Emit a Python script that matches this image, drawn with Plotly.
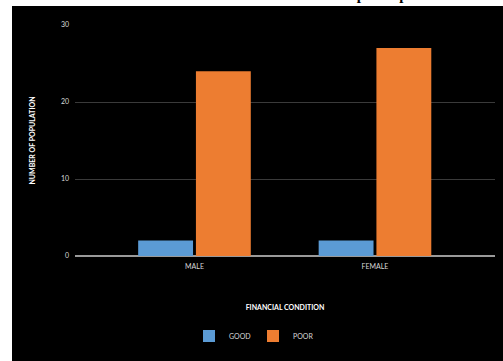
import plotly.graph_objects as go

# Number of participants by gender and financial condition
genders = ["MALE", "FEMALE"]
good_counts = [2, 2]
poor_counts = [24, 27]
series_names = ["GOOD", "POOR"]
y_ticks = [0, 10, 20, 30]

W, H = 503, 361
ML, MR, MT, MB = 75, 8, 25, 105
plot_w = W - ML - MR
plot_h = H - MT - MB


def px_x(p):
    return (p - ML) / plot_w


def px_y(p):
    return (H - MB - p) / plot_h


fig = go.Figure()
fig.add_bar(x=genders, y=good_counts, name=series_names[0],
            marker=dict(color="#5B9BD5", line=dict(width=0)))
fig.add_bar(x=genders, y=poor_counts, name=series_names[1],
            marker=dict(color="#ED7D31", line=dict(width=0)))

font = "Lato, 'Open Sans', Arial, sans-serif"

fig.update_layout(
    width=W, height=H,
    margin=dict(l=ML, r=MR, t=MT, b=MB),
    paper_bgcolor="white",
    plot_bgcolor="rgba(0,0,0,0)",
    barmode="group",
    bargap=0.36,
    bargroupgap=0.05,
    showlegend=True,
    legend=dict(orientation="h", x=px_x(189), xanchor="left",
                y=px_y(336), yanchor="middle",
                font=dict(family=font, size=7, color="#d9d9d9"),
                bgcolor="rgba(0,0,0,0)", entrywidth=19, entrywidthmode="pixels",
                itemclick=False),
    xaxis=dict(
        type="category",
        range=[-0.662, 1.665],
        showgrid=False, zeroline=False, showline=False,
        ticks="", ticklabelstandoff=5,
        tickfont=dict(family=font, size=7, color="#d9d9d9"),
        title=dict(text="<b>FINANCIAL CONDITION</b>", standoff=36,
                   font=dict(family=font, size=7, color="#ffffff")),
    ),
    yaxis=dict(
        range=[0, 30], tickvals=y_ticks,
        showgrid=True, gridcolor="#3a3a3a", gridwidth=1,
        zeroline=True, zerolinecolor="#9a9a9a", zerolinewidth=1.5,
        showline=False, ticks="", ticklabelstandoff=5,
        tickfont=dict(family=font, size=7, color="#d9d9d9"),
        title=dict(text="<b>NUMBER OF POPULATION</b>", standoff=24,
                   font=dict(family=font, size=7, color="#ffffff")),
    ),
    shapes=[dict(type="rect", xref="paper", yref="paper", layer="below",
                 x0=px_x(12), x1=px_x(W + 5), y0=px_y(H + 5), y1=px_y(6),
                 fillcolor="#000000", line=dict(width=0))],
    annotations=[dict(
        text="<b>Gender and the financial condition of the participants</b>",
        xref="paper", yref="paper", x=px_x(262), y=px_y(5),
        xanchor="center", yanchor="bottom", showarrow=False,
        font=dict(family="'Liberation Serif', 'DejaVu Serif', serif",
                  size=15, color="#000000"),
    )],
)

fig.write_html("out.html")
